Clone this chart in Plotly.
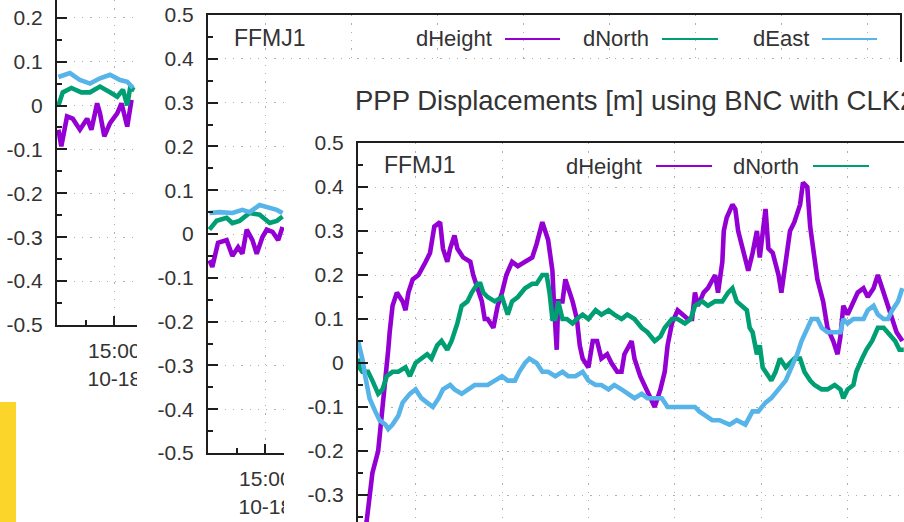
import pandas as pd
import plotly.graph_objects as go

W, H = 904, 522

# ---------------------------------------------------------------
# PPP displacements of station FFMJ1 (metres), three processing runs.
# Times are minutes after the session start (2021-10-18 14:20).
# ---------------------------------------------------------------
SESSION_START = "2021-10-18 14:20"
STATION = "FFMJ1"
SERIES = ["dHeight", "dNorth", "dEast"]
TITLE = "PPP Displacements [m] using BNC with CLK22"

# run A
a_height_t = [1, 3, 7, 11, 16, 21, 24, 28, 30, 33, 37, 42, 45, 49, 52]
a_height = [-0.055, -0.093, -0.025, -0.03, -0.055, -0.03, -0.055, 0.005, -0.018,
            -0.07, -0.04, -0.018, 0.005, -0.048, 0.013]
a_north_t = [1, 4, 10, 17, 23, 30, 37, 42, 46, 49, 51, 54]
a_north = [0.0, 0.03, 0.04, 0.03, 0.03, 0.043, 0.03, 0.02, 0.036, 0.0, 0.04, 0.035]
a_east_t = [1, 9, 16, 23, 30, 37, 44, 49, 53]
a_east = [0.065, 0.074, 0.058, 0.05, 0.062, 0.07, 0.058, 0.054, 0.04]

# run B
b_height_t = [1, 3, 7, 13, 17, 21, 24, 27, 31, 34, 38, 41, 45, 49, 52]
b_height = [-0.06, -0.075, -0.02, -0.014, -0.05, -0.03, -0.045, 0.01, -0.014,
            -0.045, -0.007, 0.01, 0.005, -0.014, 0.016]
b_north_t = [1, 6, 13, 17, 22, 29, 36, 43, 48, 52]
b_north = [0.01, 0.03, 0.037, 0.025, 0.03, 0.048, 0.044, 0.025, 0.03, 0.04]
b_east_t = [1, 8, 17, 24, 29, 36, 48, 52]
b_east = [0.048, 0.05, 0.048, 0.055, 0.05, 0.066, 0.055, 0.048]

# run C
c_height_t = [0, 3, 6, 8, 10, 14, 17, 19, 21, 22, 24, 27, 31, 33, 35, 38, 42, 47, 50, 53,
              57, 59, 62, 64, 67, 69, 73, 78, 80, 83, 86, 88, 90, 94, 97, 100, 103, 107,
              111, 116, 121, 124, 126, 128, 132, 135, 136, 138, 139, 142, 144, 146, 149,
              152, 154, 156, 160, 163, 166, 169, 173, 176, 180, 183, 185, 190, 192, 196,
              199, 203, 206, 210, 213, 215, 218, 222, 225, 229, 232, 234, 236, 240, 243,
              248, 250, 253, 254, 256, 260, 262, 264, 267, 271, 274, 277, 279, 283, 285,
              288, 292, 294, 297, 300, 303, 307, 309, 312, 314, 316, 319, 323, 326, 330,
              333, 335, 337, 340, 344, 347, 351, 354, 358, 361, 364, 367, 371, 374, 378]
c_height = [-0.42, -0.40, -0.36, -0.30, -0.25, -0.20, -0.11, -0.03, 0.03, 0.07, 0.13, 0.16,
            0.14, 0.12, 0.16, 0.19, 0.20, 0.23, 0.25, 0.31, 0.32, 0.26, 0.23, 0.26, 0.29,
            0.26, 0.24, 0.23, 0.20, 0.17, 0.14, 0.10, 0.10, 0.08, 0.13, 0.16, 0.20, 0.23,
            0.22, 0.23, 0.24, 0.27, 0.30, 0.32, 0.28, 0.21, 0.14, 0.03, 0.14, 0.14, 0.19,
            0.17, 0.14, 0.10, 0.04, 0.01, -0.01, 0.05, 0.05, 0.01, 0.02, 0.00, -0.02, -0.02,
            0.02, 0.05, 0.01, -0.03, -0.05, -0.08, -0.10, -0.06, -0.02, 0.04, 0.09, 0.12,
            0.11, 0.10, 0.10, 0.16, 0.13, 0.16, 0.17, 0.20, 0.16, 0.23, 0.30, 0.33, 0.36,
            0.35, 0.30, 0.26, 0.21, 0.25, 0.30, 0.24, 0.35, 0.26, 0.25, 0.20, 0.16, 0.23,
            0.30, 0.32, 0.36, 0.41, 0.40, 0.31, 0.26, 0.19, 0.14, 0.08, 0.05, 0.02, 0.06,
            0.13, 0.11, 0.14, 0.16, 0.17, 0.15, 0.17, 0.20, 0.17, 0.14, 0.10, 0.07, 0.05]
c_north_t = [0, 1, 3, 7, 10, 14, 17, 20, 24, 28, 33, 36, 40, 44, 48, 51, 55, 58, 62, 65,
             69, 72, 76, 79, 83, 85, 87, 90, 95, 100, 104, 107, 111, 116, 121, 124, 128,
             131, 133, 135, 137, 139, 142, 145, 149, 152, 156, 160, 165, 169, 174, 178,
             183, 187, 192, 197, 201, 206, 210, 213, 218, 222, 227, 231, 234, 239, 243,
             248, 253, 257, 260, 263, 267, 270, 272, 274, 277, 279, 281, 285, 287, 290,
             293, 297, 300, 303, 307, 310, 314, 317, 322, 326, 331, 335, 337, 340, 344,
             346, 350, 353, 357, 361, 365, 368, 373, 376, 379]
c_north = [0.01, -0.01, -0.02, -0.02, -0.04, -0.07, -0.06, -0.03, -0.02, -0.02, -0.01,
           -0.03, 0.00, 0.01, 0.02, 0.01, 0.04, 0.05, 0.03, 0.05, 0.09, 0.13, 0.14, 0.16,
           0.18, 0.18, 0.16, 0.15, 0.14, 0.15, 0.11, 0.14, 0.15, 0.17, 0.18, 0.18, 0.20,
           0.20, 0.16, 0.10, 0.10, 0.14, 0.10, 0.10, 0.09, 0.10, 0.11, 0.10, 0.12, 0.11,
           0.12, 0.11, 0.10, 0.11, 0.10, 0.08, 0.07, 0.05, 0.06, 0.08, 0.10, 0.10, 0.09,
           0.10, 0.13, 0.14, 0.13, 0.14, 0.14, 0.16, 0.17, 0.14, 0.13, 0.12, 0.08, 0.07,
           0.02, 0.04, -0.01, -0.03, -0.04, -0.02, 0.01, -0.01, 0.00, 0.01, 0.01, -0.02,
           -0.04, -0.05, -0.06, -0.06, -0.05, -0.06, -0.08, -0.06, -0.05, -0.02, 0.01,
           0.03, 0.05, 0.08, 0.08, 0.07, 0.05, 0.03, 0.03]
c_east_t = [0, 3, 5, 8, 12, 15, 19, 21, 24, 28, 31, 36, 40, 44, 48, 52, 56, 59, 64, 67,
            72, 76, 81, 86, 90, 95, 100, 104, 109, 112, 116, 119, 124, 128, 132, 137, 142,
            146, 151, 156, 160, 165, 169, 174, 178, 183, 187, 192, 197, 201, 206, 211, 215,
            220, 225, 229, 234, 237, 241, 246, 251, 258, 263, 269, 274, 278, 283, 287, 292,
            297, 301, 305, 308, 312, 315, 319, 322, 326, 331, 335, 337, 340, 344, 347, 351,
            354, 358, 361, 365, 368, 371, 375, 378]
c_east = [0.05, 0.01, -0.03, -0.08, -0.11, -0.13, -0.14, -0.15, -0.14, -0.12, -0.09, -0.07,
          -0.06, -0.08, -0.09, -0.10, -0.08, -0.06, -0.05, -0.06, -0.07, -0.06, -0.05,
          -0.05, -0.05, -0.04, -0.03, -0.04, -0.04, -0.02, 0.00, 0.01, 0.00, -0.02, -0.02,
          -0.03, -0.02, -0.03, -0.03, -0.02, -0.04, -0.05, -0.05, -0.06, -0.05, -0.06,
          -0.07, -0.08, -0.07, -0.08, -0.08, -0.08, -0.10, -0.10, -0.10, -0.10, -0.10,
          -0.11, -0.12, -0.13, -0.13, -0.14, -0.13, -0.14, -0.11, -0.11, -0.09, -0.08,
          -0.06, -0.04, -0.01, 0.02, 0.05, 0.08, 0.10, 0.10, 0.08, 0.07, 0.07, 0.07, 0.10,
          0.09, 0.10, 0.10, 0.10, 0.12, 0.13, 0.11, 0.10, 0.10, 0.12, 0.14, 0.17]

Y_TICKS = [-0.5, -0.4, -0.3, -0.2, -0.1, 0.0, 0.1, 0.2, 0.3, 0.4, 0.5]
Y_LABELS = ["-0.5", "-0.4", "-0.3", "-0.2", "-0.1", "0", "0.1", "0.2", "0.3", "0.4", "0.5"]
Y_MINOR = [-0.45, -0.35, -0.25, -0.15, -0.05, 0.05, 0.15, 0.25, 0.35, 0.45]

X_TICKS = ["2021-10-18 15:00", "2021-10-18 16:00", "2021-10-18 17:00", "2021-10-18 18:00",
           "2021-10-18 19:00", "2021-10-18 20:00", "2021-10-18 21:00", "2021-10-18 22:00"]
X_LABELS = ["15:00<br>10-18", "16:00<br>10-18", "17:00<br>10-18", "18:00<br>10-18",
            "19:00<br>10-18", "20:00<br>10-18", "21:00<br>10-18", "22:00<br>10-18"]

# ---------------------------------------------------------------
COLORS = {"dHeight": "#9400D3", "dNorth": "#009E73", "dEast": "#56B4E9"}
FONT = "Liberation Sans, Arial, sans-serif"
TXT = "#333333"
AXC = "#1e1e1e"
GRID = "#b0b0b0"
LINE_W = 4.6

t0 = pd.Timestamp(SESSION_START)


def times(mins):
    return [t0 + pd.Timedelta(minutes=m) for m in mins]


def xdom(left, right):
    return [left / W, min(right / W, 1.0)]


def ydom(top, bottom):
    return [max((H - bottom) / H, 0.0), min((H - top) / H, 1.0)]


def time_range(width_px, px_per_hour):
    end = t0 + pd.Timedelta(hours=width_px / px_per_hour)
    return [t0.strftime("%Y-%m-%d %H:%M:%S"), end.strftime("%Y-%m-%d %H:%M:%S")]


tickfont = dict(family=FONT, size=21, color=TXT)


def y_axis(domain, rng, anchor, mirror):
    return dict(domain=domain, range=rng, anchor=anchor, automargin=False,
                tickmode="array", tickvals=Y_TICKS, ticktext=Y_LABELS,
                ticks="inside", ticklen=10, tickwidth=1.5, tickcolor=AXC,
                showline=True, linecolor=AXC, linewidth=2, mirror=mirror,
                zeroline=False, showgrid=True, gridcolor=GRID, gridwidth=1.3,
                griddash="1.3px,7px", tickfont=tickfont, ticklabelstandoff=8,
                minor=dict(tickmode="array", tickvals=Y_MINOR, ticks="inside",
                           ticklen=5, tickwidth=1.5, tickcolor=AXC, showgrid=False))


def x_axis(domain, rng, anchor, mirror, left_px, px_per_hour, covered_from_px,
           side="bottom", ticks=True):
    # labels lying under the next window in front are left blank
    labels = []
    for tv, lab in zip(X_TICKS, X_LABELS):
        pos = left_px + (pd.Timestamp(tv) - t0).total_seconds() / 3600 * px_per_hour
        labels.append(lab if pos < covered_from_px - 10 else "")
    ax = dict(domain=domain, range=rng, anchor=anchor, type="date", side=side,
              automargin=False, tickmode="array", tickvals=X_TICKS, ticktext=labels,
              showline=True, linecolor=AXC, linewidth=2, mirror=mirror,
              zeroline=False, showgrid=True, gridcolor=GRID, gridwidth=1.3,
              griddash="1.3px,7px", tickfont=tickfont, ticklabelstandoff=6)
    if ticks:
        ax.update(ticks="inside", ticklen=9, tickwidth=1.5, tickcolor=AXC,
                  minor=dict(tickmode="linear", dtick=1200000, tick0=X_TICKS[0],
                             ticks="inside", ticklen=5, tickwidth=1.5, tickcolor=AXC,
                             showgrid=False))
    else:
        ax.update(ticks="", showticklabels=False)
    return ax


def hidden_axis(domain, anchor):
    return dict(domain=domain, anchor=anchor, visible=False, showgrid=False,
                zeroline=False, automargin=False)


fig = go.Figure()


def add_run(run, ax_x, ax_y):
    for name, (t, v) in zip(SERIES, run):
        fig.add_trace(go.Scatter(x=times(t), y=v, mode="lines", name=name,
                                 xaxis=ax_x, yaxis=ax_y, showlegend=False,
                                 hoverinfo="skip",
                                 line=dict(color=COLORS[name], width=LINE_W)))


def add_window_backdrop(ax_x, ax_y):
    fig.add_trace(go.Scatter(x=[], y=[], xaxis=ax_x, yaxis=ax_y, showlegend=False,
                             hoverinfo="skip"))


# window 1 (back)
add_run([(a_height_t, a_height), (a_north_t, a_north), (a_east_t, a_east)], "x", "y")
# window 2 backdrop and plot
add_window_backdrop("x2", "y2")
add_run([(b_height_t, b_height), (b_north_t, b_north), (b_east_t, b_east)], "x3", "y3")
# window 3 backdrop and plot (front)
add_window_backdrop("x4", "y4")
add_run([(c_height_t, c_height), (c_north_t, c_north), (c_east_t, c_east)], "x5", "y5")

# y ranges follow from 0.1 m per ~44 px in every window
p1_top_val = -0.5 + 325 / 439.0
p3_bot_val = 0.5 - 379 / 440.0

WIN2_LEFT, WIN3_LEFT, WIN3_TOP = 137, 284, 62

fig.update_layout(
    width=W, height=H, margin=dict(l=0, r=0, t=0, b=0, autoexpand=False),
    paper_bgcolor="white", plot_bgcolor="white", showlegend=False,
    xaxis=x_axis(xdom(57, 600), time_range(543, 86.0), "y", False, 57, 86.0, WIN2_LEFT),
    yaxis=y_axis(ydom(0, 325), [-0.5, p1_top_val], "x", False),
    xaxis2=hidden_axis(xdom(WIN2_LEFT, 904), "y2"),
    yaxis2=hidden_axis(ydom(0, 522), "x2"),
    xaxis3=x_axis(xdom(208, 900), time_range(692, 86.0), "y3", True, 208, 86.0, WIN3_LEFT),
    yaxis3=y_axis(ydom(15, 453), [-0.5, 0.5], "x3", True),
    xaxis4=hidden_axis(xdom(WIN3_LEFT, 904), "y4"),
    yaxis4=hidden_axis(ydom(WIN3_TOP, 522), "x4"),
    xaxis5=x_axis(xdom(358, 904), time_range(546, 86.4), "y5", False, 358, 86.4, 904,
                  side="top", ticks=False),
    yaxis5=y_axis(ydom(143, 522), [p3_bot_val, 0.5], "x5", False),
)


def px_x(v):
    return v / W


def px_y(v):
    return 1 - v / H


annotations = []
shapes = []


def key_block(left_axis_px, y_px, entries):
    # station label plus gnuplot-style key (text first, then sample line)
    annotations.append(dict(x=px_x(left_axis_px + 24), y=px_y(y_px), xref="paper",
                            yref="paper", text=STATION, showarrow=False, xanchor="left",
                            yanchor="middle", font=dict(family=FONT, size=23, color=TXT)))
    for name, text_right, line_from, line_to in entries:
        annotations.append(dict(x=px_x(text_right), y=px_y(y_px + 1), xref="paper",
                                yref="paper", text=name, showarrow=False,
                                xanchor="right", yanchor="middle",
                                font=dict(family=FONT, size=22, color=TXT)))
        shapes.append(dict(type="line", xref="paper", yref="paper",
                           x0=px_x(line_from), x1=px_x(line_to),
                           y0=px_y(y_px + 1), y1=px_y(y_px + 1),
                           line=dict(color=COLORS[name], width=2)))


key_block(208, 38, [("dHeight", 494, 505, 560), ("dNorth", 651, 662, 718),
                    ("dEast", 811, 822, 877)])
key_block(358, 165, [("dHeight", 644, 656, 712), ("dNorth", 801, 813, 869)])

annotations.append(dict(x=px_x(353), y=px_y(101), xref="paper", yref="paper",
                        text=TITLE, showarrow=False, xanchor="left", yanchor="middle",
                        font=dict(family=FONT, size=27.5, color=TXT)))

# yellow strip from the desktop behind the windows
shapes.append(dict(type="rect", xref="paper", yref="paper", x0=0, x1=px_x(16),
                   y0=0, y1=px_y(402), fillcolor="#FCD52B", line=dict(width=0),
                   layer="below"))

fig.update_layout(annotations=annotations, shapes=shapes)
fig.write_html("out.html", config=dict(displayModeBar=False))
